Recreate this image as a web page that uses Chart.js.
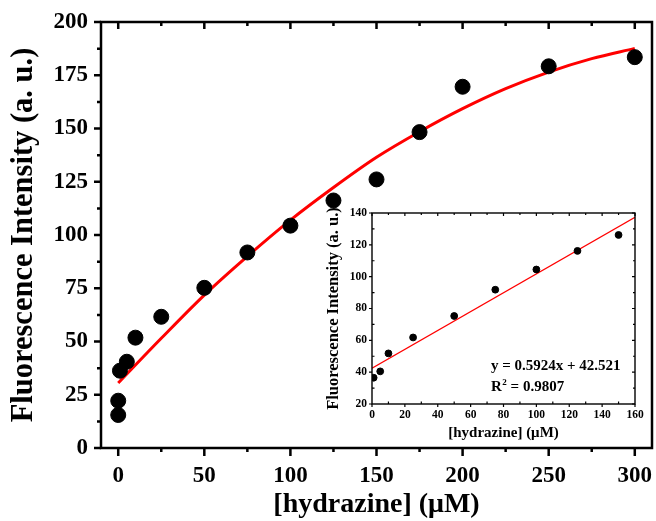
<!DOCTYPE html>
<html>
<head>
<meta charset="utf-8">
<script src="https://cdn.jsdelivr.net/npm/chart.js@4.4.1/dist/chart.umd.min.js"></script>
<style>
  html, body { margin: 0; padding: 0; background: #fff; }
  #wrap { position: relative; width: 656px; height: 521px; }
  #main { position: absolute; left: 0; top: 0; width: 656px; height: 521px; }
  #inset { position: absolute; left: 310px; top: 195px; width: 346px; height: 250px; }
</style>
</head>
<body>
<div id="wrap">
  <div id="main"><canvas id="c1"></canvas></div>
  <div id="inset"><canvas id="c2"></canvas></div>
</div>
<script>
// ---- data ----
const mainX = [0, 0, 1, 5, 10, 25, 50, 75, 100, 125, 150, 175, 200, 250, 300];
const mainY = [15.5, 22.2, 36.3, 40.5, 51.8, 61.6, 75.2, 91.8, 104.4, 116.2, 126.1, 148.3, 169.6, 179.2, 183.5];
const fitX = [0, 25, 50, 75, 100, 125, 150, 175, 200, 225, 250, 275, 300];
const fitY = [30.5, 51.5, 71.8, 90.0, 107.0, 122.3, 136.5, 148.5, 159.3, 168.7, 176.5, 182.8, 187.6];
const mainXTicks = [0, 50, 100, 150, 200, 250, 300];
const mainXMinor = [25, 75, 125, 175, 225, 275];
const mainYTicks = [0, 25, 50, 75, 100, 125, 150, 175, 200];
const mainYMinor = [12.5, 37.5, 62.5, 87.5, 112.5, 137.5, 162.5, 187.5];

const insetX = [1, 5, 10, 25, 50, 75, 100, 125, 150];
const insetY = [36.5, 40.5, 51.8, 61.8, 75.3, 91.8, 104.5, 116.2, 126.2];
const insetFitX = [0, 160];
const insetFitY = [42.5, 137.3];
const insetXTicks = [0, 20, 40, 60, 80, 100, 120, 140, 160];
const insetXMinor = [10, 30, 50, 70, 90, 110, 130, 150];
const insetYTicks = [20, 40, 60, 80, 100, 120, 140];
const insetYMinor = [30, 50, 70, 90, 110, 130];
const eqLine1 = 'y = 0.5924x + 42.521';
const eqLine2 = ['R', '2', ' = 0.9807'];

const FONT = "'Liberation Serif', 'Times New Roman', serif";

// ---- plugin: pin the plot area to fixed edges ----
const fixArea = {
  id: 'fixArea',
  afterLayout(chart, args, o) {
    const a = chart.chartArea;
    a.left = o.left; a.right = o.right; a.top = o.top; a.bottom = o.bottom;
    a.width = o.right - o.left; a.height = o.bottom - o.top;
    const x = chart.scales.x, y = chart.scales.y;
    x.left = o.left; x.right = o.right; x.width = o.right - o.left;
    x.top = o.bottom; x.bottom = chart.height; x.height = chart.height - o.bottom;
    x.configure();
    y.top = o.top; y.bottom = o.bottom; y.height = o.bottom - o.top;
    y.left = 0; y.right = o.left; y.width = o.left;
    y.configure();
  }
};

// ---- plugin: frame + tick marks drawn from the scales ----
const axisMarks = {
  id: 'axisMarks',
  afterDraw(chart, args, opts) {
    const { ctx, chartArea: a, scales } = chart;
    ctx.save();
    ctx.strokeStyle = '#000';
    ctx.lineWidth = opts.frame;
    ctx.strokeRect(a.left, a.top, a.right - a.left, a.bottom - a.top);
    ctx.lineWidth = opts.tickWidth;
    for (const m of opts.marks) {
      const s = scales[m.scale];
      ctx.beginPath();
      for (const v of m.values) {
        const p = s.getPixelForValue(v);
        if (m.side === 'bottom') { ctx.moveTo(p, a.bottom); ctx.lineTo(p, a.bottom + m.len); }
        else if (m.side === 'top') { ctx.moveTo(p, a.top); ctx.lineTo(p, a.top - m.len); }
        else if (m.side === 'left') { ctx.moveTo(a.left, p); ctx.lineTo(a.left - m.len, p); }
        else if (m.side === 'right') { ctx.moveTo(a.right, p); ctx.lineTo(a.right + m.len, p); }
      }
      ctx.stroke();
    }
    ctx.restore();
  }
};

const eqText = {
  id: 'eqText',
  afterDraw(chart, args, opts) {
    if (!opts.show) return;
    const { ctx, scales } = chart;
    const x0 = scales.x.getPixelForValue(opts.x);
    ctx.save();
    ctx.fillStyle = '#000';
    ctx.textBaseline = 'middle';
    ctx.textAlign = 'left';
    ctx.font = `bold ${opts.size}px ${FONT}`;
    const y1 = scales.y.getPixelForValue(opts.y1);
    const y2 = scales.y.getPixelForValue(opts.y2);
    ctx.fillText(eqLine1, x0, y1);
    ctx.fillText(eqLine2[0], x0, y2);
    const w = ctx.measureText(eqLine2[0]).width;
    ctx.font = `bold ${Math.round(opts.size * 0.6)}px ${FONT}`;
    ctx.fillText(eqLine2[1], x0 + w + 0.5, y2 - opts.size * 0.35);
    const w2 = ctx.measureText(eqLine2[1]).width;
    ctx.font = `bold ${opts.size}px ${FONT}`;
    ctx.fillText(eqLine2[2], x0 + w + w2 + 0.5, y2);
    ctx.restore();
  }
};

function fixTicks(arr) {
  return (scale) => { scale.ticks = arr.map(v => ({ value: v })); };
}

const quiet = { grid: { display: false, drawTicks: false }, border: { display: false } };

// ---- main chart ----
new Chart(document.getElementById('c1'), {
  type: 'scatter',
  data: {
    datasets: [
      {
        label: 'data',
        data: mainX.map((x, i) => ({ x, y: mainY[i] })),
        backgroundColor: '#000',
        borderColor: '#000',
        pointRadius: 7.5,
        pointHoverRadius: 7.5,
        showLine: false
      },
      {
        label: 'fit',
        data: fitX.map((x, i) => ({ x, y: fitY[i] })),
        borderColor: '#ff0000',
        borderWidth: 3,
        pointRadius: 0,
        showLine: true,
        tension: 0.4,
        cubicInterpolationMode: 'monotone',
        fill: false
      }
    ]
  },
  options: {
    responsive: true,
    maintainAspectRatio: false,
    animation: false,
    layout: { padding: { top: 22, right: 4, left: 0, bottom: 0 } },
    plugins: {
      legend: { display: false },
      tooltip: { enabled: false },
      fixArea: { left: 101, right: 652, top: 22, bottom: 448 },
      axisMarks: {
        frame: 2.5,
        tickWidth: 2.5,
        marks: [
          { scale: 'x', side: 'bottom', values: mainXTicks, len: 8 },
          { scale: 'x', side: 'bottom', values: mainXMinor, len: 4 },
          { scale: 'x', side: 'top', values: mainXTicks, len: -7 },
          { scale: 'x', side: 'top', values: mainXMinor, len: -4 },
          { scale: 'y', side: 'left', values: mainYTicks, len: 7 },
          { scale: 'y', side: 'left', values: mainYMinor, len: 4 }
        ]
      },
      eqText: { show: false }
    },
    scales: {
      x: {
        type: 'linear',
        min: -10,
        max: 310,
        afterBuildTicks: fixTicks(mainXTicks),
        ...quiet,
        ticks: { color: '#000', padding: 14, font: { family: FONT, size: 23, weight: 'bold' } },
        title: {
          display: true, text: '[hydrazine] (\u03BCM)', color: '#000',
          padding: { top: 0, bottom: 2 },
          font: { family: FONT, size: 28, weight: 'bold', lineHeight: 1 }
        }
      },
      y: {
        type: 'linear',
        min: 0,
        max: 200,
        afterBuildTicks: fixTicks(mainYTicks),
        ...quiet,
        ticks: { color: '#000', padding: 13, font: { family: FONT, size: 23, weight: 'bold' } },
        title: {
          display: true, text: 'Fluorescence Intensity (a. u.)', color: '#000',
          padding: { top: 9, bottom: 0 },
          font: { family: FONT, size: 30.5, weight: 'bold', lineHeight: 1 }
        }
      }
    }
  },
  plugins: [fixArea, axisMarks, eqText]
});

// ---- inset chart ----
new Chart(document.getElementById('c2'), {
  type: 'scatter',
  data: {
    datasets: [
      {
        label: 'data',
        data: insetX.map((x, i) => ({ x, y: insetY[i] })),
        backgroundColor: '#000',
        borderColor: '#000',
        pointRadius: 3.4,
        pointHoverRadius: 3.4,
        showLine: false
      },
      {
        label: 'linear fit',
        data: insetFitX.map((x, i) => ({ x, y: insetFitY[i] })),
        borderColor: '#ff0000',
        borderWidth: 1.3,
        pointRadius: 0,
        showLine: true,
        fill: false
      }
    ]
  },
  options: {
    responsive: true,
    maintainAspectRatio: false,
    animation: false,
    layout: { padding: { top: 18, right: 21, left: 0, bottom: 0 } },
    plugins: {
      legend: { display: false },
      tooltip: { enabled: false },
      fixArea: { left: 62, right: 325, top: 18, bottom: 209 },
      axisMarks: {
        frame: 1.4,
        tickWidth: 1.2,
        marks: [
          { scale: 'x', side: 'bottom', values: insetXTicks, len: 3 },
          { scale: 'x', side: 'bottom', values: insetXMinor, len: -2.5 },
          { scale: 'x', side: 'top', values: insetXTicks, len: -3 },
          { scale: 'x', side: 'top', values: insetXMinor, len: -2 },
          { scale: 'y', side: 'left', values: insetYTicks, len: 3 },
          { scale: 'y', side: 'left', values: insetYMinor, len: -2.5 },
          { scale: 'y', side: 'right', values: insetYTicks, len: -3 },
          { scale: 'y', side: 'right', values: insetYMinor, len: -2 }
        ]
      },
      eqText: { show: true, x: 72.4, y1: 43.8, y2: 30.4, size: 15 }
    },
    scales: {
      x: {
        type: 'linear',
        min: 0,
        max: 160,
        afterBuildTicks: fixTicks(insetXTicks),
        ...quiet,
        ticks: { color: '#000', padding: 4, font: { family: FONT, size: 11.5, weight: 'bold' } },
        title: {
          display: true, text: '[hydrazine] (\u03BCM)', color: '#000',
          padding: { top: 0, bottom: 4.5 },
          font: { family: FONT, size: 15, weight: 'bold', lineHeight: 1 }
        }
      },
      y: {
        type: 'linear',
        min: 20,
        max: 140,
        afterBuildTicks: fixTicks(insetYTicks),
        ...quiet,
        ticks: { color: '#000', padding: 5, font: { family: FONT, size: 11.5, weight: 'bold' } },
        title: {
          display: true, text: 'Fluorescence Intensity (a. u.)', color: '#000',
          padding: { top: 15, bottom: 0 },
          font: { family: FONT, size: 16.5, weight: 'bold', lineHeight: 1 }
        }
      }
    }
  },
  plugins: [fixArea, axisMarks, eqText]
});
</script>
</body>
</html>
